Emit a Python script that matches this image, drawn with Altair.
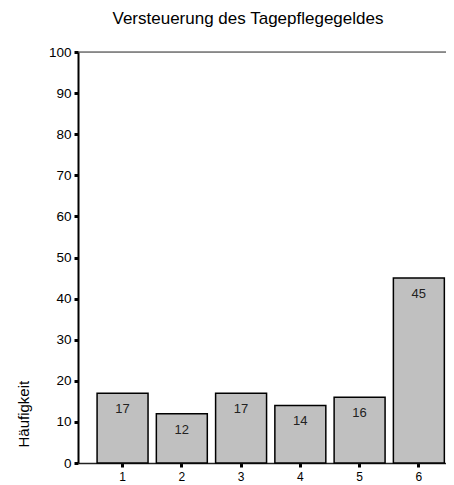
import altair as alt
import pandas as pd

categories = ["1", "2", "3", "4", "5", "6"]
counts = [17, 12, 17, 14, 16, 45]
y_ticks = list(range(0, 101, 10))
top_value = [100]
title_text = "Versteuerung des Tagepflegegeldes"
y_title = "Häufigkeit"

FONT = "Liberation Sans"

df = pd.DataFrame({"cat": categories, "n": counts})
top_df = pd.DataFrame({"v": top_value})

x_enc = alt.X(
    "cat:N", sort=categories, title=None,
    scale=alt.Scale(paddingInner=0.14, paddingOuter=0.175, align=0.92),
    axis=alt.Axis(labelAngle=0, domainColor="#222", domainWidth=1.5,
                  tickColor="black", tickSize=4, tickWidth=3,
                  labelFontSize=12, labelFont=FONT, labelColor="black",
                  labelPadding=4),
)
y_enc = alt.Y(
    "n:Q", scale=alt.Scale(domain=[0, 100], nice=False),
    axis=alt.Axis(values=y_ticks, title=y_title, grid=False,
                  domainColor="black", domainWidth=2,
                  tickColor="black", tickSize=4, tickWidth=3,
                  labelFontSize=13.5, labelFont=FONT, labelColor="black",
                  labelPadding=3,
                  titleFont=FONT, titleFontSize=15, titleFontWeight="normal",
                  titleColor="black", titleAngle=-90, titleX=-55, titleY=395,
                  titleAlign="left", titleBaseline="middle"),
)

bars = alt.Chart(df).mark_bar(color="#c0c0c0", stroke="black", strokeWidth=1.5).encode(
    x=x_enc, y=y_enc
)
labels = alt.Chart(df).mark_text(baseline="middle", dy=16, fontSize=13, font=FONT,
                                 color="#222").encode(
    x=alt.X("cat:N", sort=categories), y=alt.Y("n:Q"), text="n:Q"
)
top_rule = alt.Chart(top_df).mark_rule(color="#333", strokeWidth=1.2).encode(
    y=alt.Y("v:Q")
)

chart = alt.layer(bars, labels, top_rule).properties(
    width=368, height=411,
    title=alt.TitleParams(title_text, fontSize=17, font=FONT, fontWeight="normal",
                          color="black", anchor="middle", dx=-14, offset=17),
    autosize=alt.AutoSizeParams(type="none"),
    padding={"left": 70, "top": 44, "right": 0, "bottom": 20},
).configure_view(stroke=None).configure(background="white")

chart.save("out.html", embed_options={"renderer": "svg", "actions": False})
